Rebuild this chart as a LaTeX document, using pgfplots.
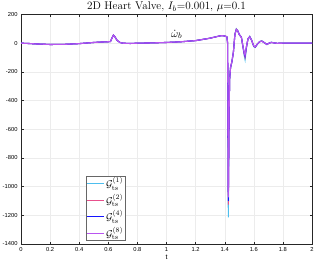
\documentclass[border=0pt]{standalone}
\usepackage{pgfplots}
\pgfplotsset{compat=1.18}
\usepackage{fontspec}
\setsansfont{Liberation Sans}
\definecolor{ccyan}{RGB}{77,190,238}
\definecolor{cpink}{RGB}{232,80,140}
\definecolor{cblue}{RGB}{20,20,255}
\definecolor{cpurp}{RGB}{185,85,240}
\definecolor{axgray}{RGB}{38,38,38}
\begin{document}
\begin{tikzpicture}
\begin{axis}[
  scale only axis,
  width=291bp, height=229.5bp,
  xmin=0, xmax=2, ymin=-1400, ymax=200,
  xtick={0,0.2,...,2.01}, ytick={-1400,-1200,...,200},
  /pgf/number format/1000 sep={},
  xticklabel style={font=\sffamily\fontsize{5.8}{7}\selectfont, /pgf/number format/fixed, /pgf/number format/precision=1},
  yticklabel style={font=\sffamily\fontsize{5.8}{7}\selectfont},
  /pgf/number format/assume math mode=true,
  scaled x ticks=false, scaled y ticks=false,
  grid=major, major grid style={gray!15, line width=0.4pt},
  axis line style={axgray, line width=0.4pt},
  tick style={axgray, line width=0.4pt}, tick align=inside,
  major tick length=2.5bp,
  xlabel={t}, xlabel style={font=\sffamily\fontsize{7}{8}\selectfont, yshift=3bp},
  title={2D Heart Valve, $I_b$=0.001, $\mu$=0.1},
  title style={font=\fontsize{11.2}{12}\selectfont, yshift=-6.5bp},
  legend style={at={(0.2225,0.0138)}, anchor=south west, draw=gray!80!black, line width=0.5pt,
    font=\fontsize{10}{11}\selectfont, row sep=2.2pt, inner sep=0.5pt,
    nodes={inner sep=1.2pt}},
  legend cell align=left,
  legend image post style={line width=0.8pt},
  legend image code/.code={\draw[#1] (0cm,0cm) -- (0.62cm,0cm);},
]
\addplot[ccyan, line width=1.1pt] coordinates {
(0,0) (0.05,-2) (0.1,-5) (0.2,-9) (0.3,-8) (0.4,-3) (0.5,5) (0.55,8) (0.6,10) (0.615,12)
(0.625,37) (0.635,57) (0.645,46) (0.66,20) (0.68,5) (0.7,0) (0.75,-2) (0.8,0) (0.9,2)
(1.0,5) (1.1,10) (1.2,18) (1.3,35) (1.35,47) (1.38,53) (1.40,50) (1.415,45) (1.42,0)
(1.425,-1215) (1.43,-500) (1.434,-250) (1.44,-175) (1.45,-130) (1.46,-62) (1.47,62)
(1.48,100) (1.49,88) (1.50,62) (1.515,40) (1.525,-25) (1.535,-90) (1.54,-115) (1.55,-30)
(1.56,30) (1.572,48) (1.585,22) (1.60,-25) (1.61,-30) (1.625,-7) (1.64,12) (1.655,17)
(1.67,6) (1.69,-10) (1.705,0) (1.72,7) (1.74,2) (1.76,-1) (1.8,0) (2.0,0)};
\addlegendentry{$\mathcal{G}_{\mathrm{ts}}^{(1)}$}
\addplot[cpink, line width=1.1pt] coordinates {
(0,0) (0.05,-2) (0.1,-5) (0.2,-9) (0.3,-8) (0.4,-3) (0.5,5) (0.55,8) (0.6,10) (0.615,12)
(0.625,36) (0.635,56) (0.645,45) (0.66,20) (0.68,5) (0.7,0) (0.75,-2) (0.8,0) (0.9,2)
(1.0,5) (1.1,10) (1.2,18) (1.3,35) (1.35,47) (1.38,53) (1.40,50) (1.415,45) (1.42,0)
(1.425,-1125) (1.43,-500) (1.434,-250) (1.44,-172) (1.45,-127) (1.46,-61) (1.47,61)
(1.48,97) (1.49,86) (1.50,61) (1.515,40) (1.525,-22) (1.535,-80) (1.54,-98) (1.55,-25)
(1.56,30) (1.572,46) (1.585,21) (1.60,-22) (1.61,-27) (1.625,-6) (1.64,11) (1.655,15)
(1.67,5) (1.69,-9) (1.705,0) (1.72,6) (1.74,2) (1.76,-1) (1.8,0) (2.0,0)};
\addlegendentry{$\mathcal{G}_{\mathrm{ts}}^{(2)}$}
\addplot[cblue, line width=1.1pt] coordinates {
(0,0) (0.05,-2) (0.1,-5) (0.2,-9) (0.3,-8) (0.4,-3) (0.5,5) (0.55,8) (0.6,10) (0.615,12)
(0.625,35) (0.635,55) (0.645,45) (0.66,20) (0.68,5) (0.7,0) (0.75,-2) (0.8,0) (0.9,2)
(1.0,5) (1.1,10) (1.2,18) (1.3,35) (1.35,47) (1.38,53) (1.40,50) (1.415,45) (1.42,0)
(1.425,-1100) (1.43,-500) (1.434,-250) (1.44,-170) (1.45,-125) (1.46,-60) (1.47,60)
(1.48,95) (1.49,85) (1.50,60) (1.515,40) (1.525,-20) (1.535,-75) (1.54,-90) (1.55,-22)
(1.56,30) (1.572,45) (1.585,20) (1.60,-21) (1.61,-26) (1.625,-5) (1.64,10) (1.655,14)
(1.67,5) (1.69,-8) (1.705,0) (1.72,5) (1.74,2) (1.76,-1) (1.8,0) (2.0,0)};
\addlegendentry{$\mathcal{G}_{\mathrm{ts}}^{(4)}$}
\addplot[cpurp, line width=1.1pt] coordinates {
(0,0) (0.05,-2) (0.1,-5) (0.2,-9) (0.3,-8) (0.4,-3) (0.5,5) (0.55,8) (0.6,10) (0.615,12)
(0.625,35) (0.635,55) (0.645,45) (0.66,20) (0.68,5) (0.7,0) (0.75,-2) (0.8,0) (0.9,2)
(1.0,5) (1.1,10) (1.2,18) (1.3,35) (1.35,47) (1.38,53) (1.40,50) (1.415,45) (1.42,0)
(1.425,-1075) (1.43,-500) (1.434,-250) (1.44,-170) (1.45,-125) (1.46,-60) (1.47,60)
(1.48,95) (1.49,85) (1.50,60) (1.515,40) (1.525,-20) (1.535,-72) (1.54,-84) (1.55,-20)
(1.56,30) (1.572,44) (1.585,20) (1.60,-20) (1.61,-25) (1.625,-5) (1.64,10) (1.655,14)
(1.67,5) (1.69,-8) (1.705,0) (1.72,5) (1.74,2) (1.76,-1) (1.8,0) (2.0,0)};
\addlegendentry{$\mathcal{G}_{\mathrm{ts}}^{(8)}$}
\node[font=\fontsize{11}{12}\selectfont] at (axis cs:1.07,62) {$\dot{\omega}_b$};
\end{axis}
\pgfresetboundingbox
\path ([xshift=-21bp,yshift=-21bp]current axis.south west) rectangle ([xshift=2bp,yshift=14.5bp]current axis.north east);
\end{tikzpicture}
\end{document}
